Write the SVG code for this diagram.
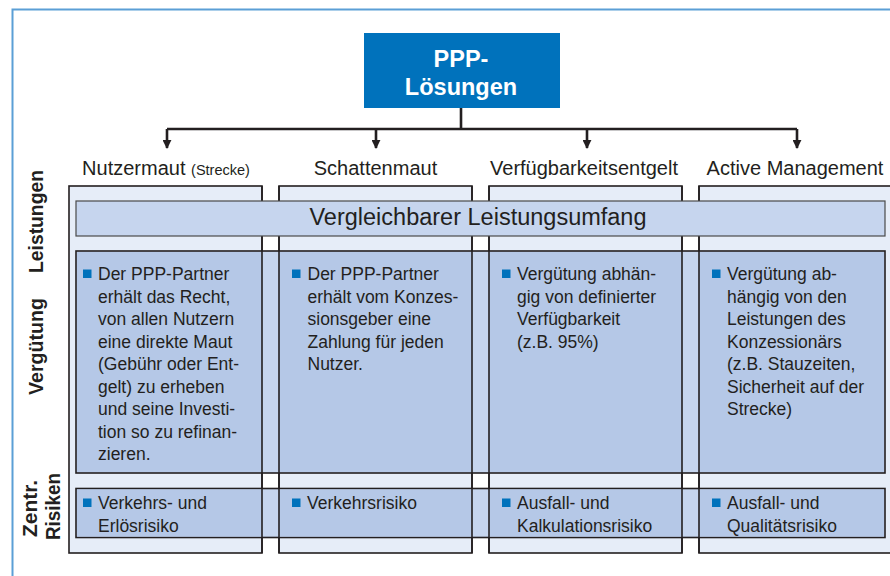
<svg xmlns="http://www.w3.org/2000/svg" width="890" height="576" viewBox="0 0 890 576">
<defs>
<style>
.t{font-family:"Liberation Sans",Arial,sans-serif;fill:#231f20}
.hd{font-size:20px}
.sm{font-size:14.5px}
.bd{font-size:17.5px}
.lab{font-family:"Liberation Sans",Arial,sans-serif;font-weight:bold;font-size:20.5px;fill:#231f20}
.col{fill:#e6edf8;stroke:#231f20;stroke-width:1.6}
.band{fill:#c6d5ee;stroke:#231f20;stroke-width:1.6}
.cell{fill:#b5c8e7}
.vl{stroke:#231f20;stroke-width:1.6}
.bul{fill:#0072bc}
.con{stroke:#231f20;stroke-width:2.6;fill:none}
</style>
<marker id="ah" viewBox="0 0 10 10" refX="9" refY="5" markerWidth="9" markerHeight="9" markerUnits="userSpaceOnUse" orient="auto">
<path d="M0,0 L10,5 L0,10 z" fill="#231f20"/>
</marker>
</defs>
<rect x="0" y="0" width="890" height="576" fill="#ffffff"/>
<!-- frame -->
<path d="M12.5,590 L12.5,9.5 L900,9.5" fill="none" stroke="#5b9fd6" stroke-width="2"/>

<!-- top node -->
<g id="node-ppp">
<rect x="364" y="33" width="196" height="75" fill="#0072bc"/>
<text x="461" y="67" text-anchor="middle" font-family="Liberation Sans,Arial,sans-serif" font-weight="bold" font-size="23.5" fill="#ffffff">PPP-</text>
<text x="461" y="95" text-anchor="middle" font-family="Liberation Sans,Arial,sans-serif" font-weight="bold" font-size="23.5" fill="#ffffff">Lösungen</text>
</g>

<!-- connectors -->
<g id="connectors">
<path class="con" d="M461,108 L461,129"/>
<path class="con" d="M167,129 L797,129"/>
<path class="con" d="M167,129 L167,148" marker-end="url(#ah)"/>
<path class="con" d="M376,129 L376,148" marker-end="url(#ah)"/>
<path class="con" d="M587,129 L587,148" marker-end="url(#ah)"/>
<path class="con" d="M797,129 L797,148" marker-end="url(#ah)"/>
</g>

<!-- column headers -->
<g id="headers">
<text class="t hd" x="166" y="175" text-anchor="middle">Nutzermaut <tspan class="sm">(Strecke)</tspan></text>
<text class="t hd" x="375.5" y="175" text-anchor="middle">Schattenmaut</text>
<text class="t hd" x="584" y="175" text-anchor="middle">Verfügbarkeitsentgelt</text>
<text class="t hd" x="795" y="175" text-anchor="middle">Active Management</text>
</g>

<!-- columns -->
<g id="columns">
<rect class="col" x="69" y="186" width="193" height="367"/>
<rect class="col" x="279" y="186" width="193" height="367"/>
<rect class="col" x="489" y="186" width="193" height="367"/>
<rect class="col" x="699" y="186" width="200" height="367"/>
</g>

<!-- Verguetung band -->
<g id="band-verguetung">
<rect class="band" x="76" y="251" width="809" height="222"/>
<rect class="cell" x="77" y="252" width="185" height="220"/>
<rect class="cell" x="279" y="252" width="193" height="220"/>
<rect class="cell" x="489" y="252" width="193" height="220"/>
<rect class="cell" x="699" y="252" width="185" height="220"/>
</g>

<!-- Risiken band -->
<g id="band-risiken">
<rect class="band" x="76" y="488.5" width="809" height="49"/>
<rect class="cell" x="77" y="489.5" width="185" height="47"/>
<rect class="cell" x="279" y="489.5" width="193" height="47"/>
<rect class="cell" x="489" y="489.5" width="193" height="47"/>
<rect class="cell" x="699" y="489.5" width="185" height="47"/>
</g>

<!-- column edges on top -->
<g id="column-edges">
<line class="vl" x1="262" y1="186" x2="262" y2="553"/>
<line class="vl" x1="279" y1="186" x2="279" y2="553"/>
<line class="vl" x1="472" y1="186" x2="472" y2="553"/>
<line class="vl" x1="489" y1="186" x2="489" y2="553"/>
<line class="vl" x1="682" y1="186" x2="682" y2="553"/>
<line class="vl" x1="699" y1="186" x2="699" y2="553"/>
</g>

<!-- Leistungsumfang bar -->
<g id="node-leistungsumfang">
<rect x="76" y="201" width="809" height="35" fill="#c6d5ee" stroke="#4a4a4a" stroke-width="1.2"/>
<text class="t" x="478" y="225" text-anchor="middle" font-size="23.5">Vergleichbarer Leistungsumfang</text>
</g>

<!-- Verguetung texts -->
<g id="node-v1">
<rect class="bul" x="83" y="269.5" width="8.5" height="8.5"/>
<text class="t bd" x="98">
<tspan x="98" y="280">Der PPP-Partner</tspan>
<tspan x="98" y="302.5">erhält das Recht,</tspan>
<tspan x="98" y="325">von allen Nutzern</tspan>
<tspan x="98" y="347.5">eine direkte Maut</tspan>
<tspan x="98" y="370">(Gebühr oder Ent-</tspan>
<tspan x="98" y="392.5">gelt) zu erheben</tspan>
<tspan x="98" y="415">und seine Investi-</tspan>
<tspan x="98" y="437.5">tion so zu refinan-</tspan>
<tspan x="98" y="460">zieren.</tspan>
</text>
</g>
<g id="node-v2">
<rect class="bul" x="292" y="269.5" width="8.5" height="8.5"/>
<text class="t bd">
<tspan x="307.5" y="280">Der PPP-Partner</tspan>
<tspan x="307.5" y="302.5">erhält vom Konzes-</tspan>
<tspan x="307.5" y="325">sionsgeber eine</tspan>
<tspan x="307.5" y="347.5">Zahlung für jeden</tspan>
<tspan x="307.5" y="370">Nutzer.</tspan>
</text>
</g>
<g id="node-v3">
<rect class="bul" x="502" y="269.5" width="8.5" height="8.5"/>
<text class="t bd">
<tspan x="517" y="280">Vergütung abhän-</tspan>
<tspan x="517" y="302.5">gig von definierter</tspan>
<tspan x="517" y="325">Verfügbarkeit</tspan>
<tspan x="517" y="347.5">(z.B. 95%)</tspan>
</text>
</g>
<g id="node-v4">
<rect class="bul" x="712" y="269.5" width="8.5" height="8.5"/>
<text class="t bd">
<tspan x="727" y="280">Vergütung ab-</tspan>
<tspan x="727" y="302.5">hängig von den</tspan>
<tspan x="727" y="325">Leistungen des</tspan>
<tspan x="727" y="347.5">Konzessionärs</tspan>
<tspan x="727" y="370">(z.B. Stauzeiten,</tspan>
<tspan x="727" y="392.5">Sicherheit auf der</tspan>
<tspan x="727" y="415">Strecke)</tspan>
</text>
</g>

<!-- Risiken texts -->
<g id="node-r1">
<rect class="bul" x="83" y="498.5" width="8.5" height="8.5"/>
<text class="t bd"><tspan x="98" y="508.5">Verkehrs- und</tspan><tspan x="98" y="531.5">Erlösrisiko</tspan></text>
</g>
<g id="node-r2">
<rect class="bul" x="292" y="498.5" width="8.5" height="8.5"/>
<text class="t bd"><tspan x="307" y="508.5">Verkehrsrisiko</tspan></text>
</g>
<g id="node-r3">
<rect class="bul" x="502" y="498.5" width="8.5" height="8.5"/>
<text class="t bd"><tspan x="517" y="508.5">Ausfall- und</tspan><tspan x="517" y="531.5">Kalkulationsrisiko</tspan></text>
</g>
<g id="node-r4">
<rect class="bul" x="712" y="498.5" width="8.5" height="8.5"/>
<text class="t bd"><tspan x="727" y="508.5">Ausfall- und</tspan><tspan x="727" y="531.5">Qualitätsrisiko</tspan></text>
</g>

<!-- row labels -->
<g id="row-labels">
<text class="lab" transform="translate(43,221.5) rotate(-90)" text-anchor="middle" textLength="103" lengthAdjust="spacingAndGlyphs">Leistungen</text>
<text class="lab" transform="translate(43,346.5) rotate(-90)" text-anchor="middle" textLength="97" lengthAdjust="spacingAndGlyphs">Vergütung</text>
<text class="lab" transform="translate(37,508.5) rotate(-90)" text-anchor="middle" textLength="57" lengthAdjust="spacingAndGlyphs">Zentr.</text>
<text class="lab" transform="translate(60,506.5) rotate(-90)" text-anchor="middle" textLength="67" lengthAdjust="spacingAndGlyphs">Risiken</text>
</g>
</svg>
